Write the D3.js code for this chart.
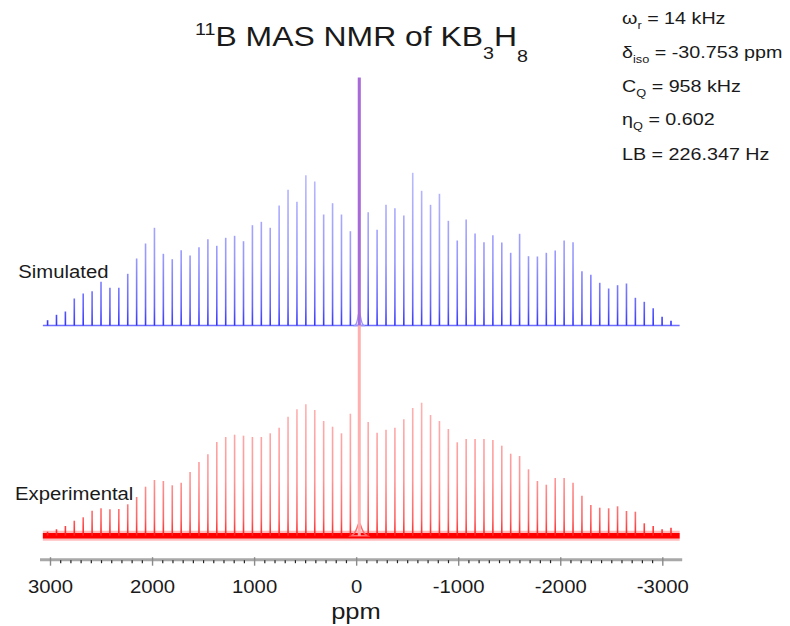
<!DOCTYPE html>
<html>
<head>
<meta charset="utf-8">
<script src="https://cdn.jsdelivr.net/npm/d3@7"></script>
<style>
  body { margin: 0; background: #fff; }
  svg { display: block; }
  text { font-family: "Liberation Sans", Arial, sans-serif; fill: #1a1a1a; }
</style>
</head>
<body>
<script>
// ---- Acquisition / fit parameters -------------------------------------
const isoShiftPpm = -30.753;   // δiso
const spinRateHz = 14000;      // ωr
const larmorMHz = 160.42;      // 11B frequency at 11.7 T

// Spinning sideband orders, left (high ppm) to right (low ppm)
const sidebandOrders = d3.range(35, -36, -1);

// Sideband intensities (arbitrary units), same order as sidebandOrders
const simulated = [
  5.3, 10.7, 14, 27, 32, 34.3, 43.7, 37.7, 37.7, 51.7,
  67, 82, 97.7, 71.7, 66.3, 75.3, 70, 78.3, 86.3, 79.7,
  87.7, 89.7, 84.3, 100.3, 103.7, 97.7, 120, 135.7, 123.7, 150.3,
  144, 111, 122.3, 111, 94.3,
  248,
  113.3, 95.7, 120.7, 117.3, 110, 152.7, 134.7, 120.7, 131.7, 104.7,
  85, 106, 92, 83.3, 90.3, 83, 72.7, 91.7, 69.3, 69,
  72.7, 75, 85, 83.3, 54.3, 50.7, 42.7, 37, 40.3, 42,
  27.7, 23.7, 17.3, 8.7, 4.7
];
const experimental = [
  4, 6.4, 9.7, 15, 18.4, 25, 27.4, 26.4, 26.7, 31.4,
  38.7, 49, 55.7, 54.7, 50.4, 53, 63.7, 73.7, 81.4, 93.7,
  98.7, 101, 100, 98.7, 98.7, 102.4, 108, 119, 126.4, 131.4,
  125.7, 114.7, 109, 102.4, 122,
  458,
  113.7, 103, 106, 108, 116.4, 127.7, 133, 120.7, 114.7, 106.7,
  93.4, 96.7, 96.7, 96.7, 95.7, 90, 82, 79.7, 66.4, 54.7,
  51, 57.7, 57.7, 53, 40, 30.7, 28, 27.4, 29.4, 24.7,
  24, 12.4, 9.7, 6.4, 8
];

// Broad foot of the centre band: [offset from δiso in ppm, intensity]
const simCentreFoot = [[-45, 0], [-25, 2], [-12, 9], [0, 16], [12, 9], [25, 2], [45, 0]];
const expCentreFoot = [[-80, 0], [-45, 2], [-20, 8], [0, 15], [20, 8], [45, 2], [80, 0]];

// Spectral window and axis
const spectrumRange = [3070, -3170];
const axisRange = [3098, -3195];
const majorTicks = [3000, 2000, 1000, 0, -1000, -2000, -3000];
const tickLabels = ["3000", "2000", "1000", "0", "-1000", "-2000", "-3000"];
const minorTicks = d3.range(3000, -3001, -100).filter(d => d % 1000 !== 0);

const params = [
  { main: "ω", sub: "r", rest: " = 14 kHz" },
  { main: "δ", sub: "iso", rest: " = -30.753 ppm" },
  { main: "C", sub: "Q", rest: " = 958 kHz" },
  { main: "η", sub: "Q", rest: " = 0.602" },
  { main: "LB", sub: "", rest: " = 226.347 Hz" }
];

// ---- Layout -------------------------------------------------------------
const W = 790, H = 626;
const stretch = 1.16;
const svg = d3.select("body").append("svg").attr("width", W).attr("height", H);

const x = d3.scaleLinear().domain([3000, -3000]).range([50, 662.3]);
const ySim = d3.scaleLinear().domain([0, 250]).range([325.5, 75.5]);
const yExp = d3.scaleLinear().domain([0, 460]).range([535.7, 75.7]);
const axisY = 559.7;

const sidebandPpm = sidebandOrders.map(n => isoShiftPpm + n * spinRateHz / larmorMHz);
const simData = sidebandOrders.map((n, i) => ({ n, ppm: sidebandPpm[i], v: simulated[i] }));
const expData = sidebandOrders.map((n, i) => ({ n, ppm: sidebandPpm[i], v: experimental[i] }));

// Vertical gradients: dense line bases look darker than the thin tips
const defs = svg.append("defs");
function vGradient(id, yBase, yTop, stops) {
  const g = defs.append("linearGradient").attr("id", id)
    .attr("gradientUnits", "userSpaceOnUse")
    .attr("x1", 0).attr("x2", 0).attr("y1", yBase).attr("y2", yTop);
  stops.forEach(([o, c]) => g.append("stop").attr("offset", o).attr("stop-color", c));
}
vGradient("simGrad", ySim(0), ySim(160), [
  [0, "rgb(50,50,255)"], [0.12, "rgb(100,100,255)"], [0.4, "rgb(150,150,255)"], [1, "rgb(190,190,255)"]
]);
vGradient("expGrad", yExp(0), yExp(140), [
  [0, "rgb(255,30,30)"], [0.12, "rgb(255,100,100)"], [0.4, "rgb(255,150,150)"], [1, "rgb(255,180,180)"]
]);

const footArea = (y) => d3.area()
  .x(d => x(isoShiftPpm + d[0])).y0(y(0)).y1(d => y(d[1]))
  .curve(d3.curveBasis);

// ---- Simulated spectrum -------------------------------------------------
const sim = svg.append("g");
sim.append("line")
  .attr("x1", x(spectrumRange[0])).attr("x2", x(spectrumRange[1]))
  .attr("y1", ySim(0)).attr("y2", ySim(0))
  .attr("stroke", "rgb(110,110,255)").attr("stroke-width", 1.6);
sim.append("path")
  .datum(simCentreFoot)
  .attr("d", footArea(ySim))
  .attr("fill", "none").attr("stroke", "rgb(150,150,255)").attr("stroke-width", 1.3);
sim.selectAll("line.sb").data(simData.filter(d => d.n !== 0)).join("line")
  .attr("class", "sb")
  .attr("x1", d => x(d.ppm)).attr("x2", d => x(d.ppm))
  .attr("y1", ySim(0)).attr("y2", d => ySim(d.v))
  .attr("stroke", "url(#simGrad)").attr("stroke-width", 1.6);

// ---- Experimental spectrum ----------------------------------------------
const exp = svg.append("g");
exp.append("line")
  .attr("x1", x(spectrumRange[0])).attr("x2", x(spectrumRange[1]))
  .attr("y1", yExp(0)).attr("y2", yExp(0))
  .attr("stroke", "rgb(255,90,90)").attr("stroke-width", 10).attr("opacity", 0.4);
exp.append("line")
  .attr("x1", x(spectrumRange[0])).attr("x2", x(spectrumRange[1]))
  .attr("y1", yExp(0)).attr("y2", yExp(0))
  .attr("stroke", "rgb(255,0,0)").attr("stroke-width", 5.5);
exp.append("path")
  .datum(expCentreFoot)
  .attr("d", footArea(yExp))
  .attr("fill", "none").attr("stroke", "rgb(255,110,110)").attr("stroke-width", 1.5);
exp.selectAll("line.sb").data(expData.filter(d => d.n !== 0)).join("line")
  .attr("class", "sb")
  .attr("x1", d => x(d.ppm)).attr("x2", d => x(d.ppm))
  .attr("y1", yExp(0)).attr("y2", d => yExp(d.v))
  .attr("stroke", "url(#expGrad)").attr("stroke-width", 1.6);

// ---- Centre bands (drawn last so the two overlap) -----------------------
const expCentre = expData.find(d => d.n === 0);
const simCentre = simData.find(d => d.n === 0);
svg.append("line")
  .attr("x1", x(expCentre.ppm)).attr("x2", x(expCentre.ppm))
  .attr("y1", yExp(0)).attr("y2", yExp(expCentre.v))
  .attr("stroke", "rgb(255,175,175)").attr("stroke-width", 3);
svg.append("line")
  .attr("x1", x(simCentre.ppm)).attr("x2", x(simCentre.ppm))
  .attr("y1", ySim(0)).attr("y2", ySim(simCentre.v))
  .attr("stroke", "rgb(95,50,255)").attr("stroke-width", 3).attr("opacity", 0.55);

// ---- Axis ----------------------------------------------------------------
const axisG = svg.append("g").attr("transform", `translate(0,${axisY})`);
axisG.append("line")
  .attr("x1", x(axisRange[0])).attr("x2", x(axisRange[1]))
  .attr("stroke", "#a8a8a8").attr("stroke-width", 3);
const minorAxis = axisG.append("g")
  .call(d3.axisBottom(x).tickValues(minorTicks).tickSize(3.5).tickFormat(""));
minorAxis.select(".domain").remove();
minorAxis.selectAll(".tick line").attr("stroke", "#222").attr("stroke-width", 1.2).attr("y1", 0.5);
const majorAxis = axisG.append("g")
  .call(d3.axisBottom(x).tickValues(majorTicks).tickSize(6).tickFormat((d, i) => tickLabels[i]));
majorAxis.select(".domain").remove();
majorAxis.selectAll(".tick line").attr("stroke", "#8a8a8a").attr("stroke-width", 1.4).attr("y1", -2.5);
majorAxis.selectAll(".tick text")
  .attr("y", 593.5 - axisY).attr("dy", 0)
  .attr("transform", `scale(${stretch},1)`)
  .style("font-size", "17.5px").style("fill", "#1a1a1a");

// ---- Text ------------------------------------------------------------------
function label(px, py, anchor, size) {
  return svg.append("g")
    .attr("transform", `translate(${px},${py}) scale(${stretch},1)`)
    .append("text").attr("text-anchor", anchor).style("font-size", size + "px");
}

label(x(0) - 0.2, 618.5, "middle", 22).text("ppm");
label(18.3, 277.7, "start", 17.5).text("Simulated");
label(15, 500, "start", 17.5).text("Experimental");

const title = label(361.5, 46, "middle", 27.5);
title.append("tspan").attr("dy", -11).style("font-size", "17px").text("11");
title.append("tspan").attr("dy", 11).text("B MAS NMR of KB");
title.append("tspan").attr("dy", 13).style("font-size", "17px").text("3");
title.append("tspan").attr("dy", -13).text("H");
title.append("tspan").attr("dy", 16).style("font-size", "17px").text("8");

const paramBaselines = [24, 58, 92, 125, 160];
params.forEach((p, i) => {
  const t = label(622, paramBaselines[i], "start", 17);
  t.append("tspan").text(p.main);
  if (p.sub) {
    t.append("tspan").attr("dy", 5).style("font-size", "11px").text(p.sub);
    t.append("tspan").attr("dy", -5).text(p.rest);
  } else {
    t.append("tspan").text(p.rest);
  }
});
</script>
</body>
</html>
